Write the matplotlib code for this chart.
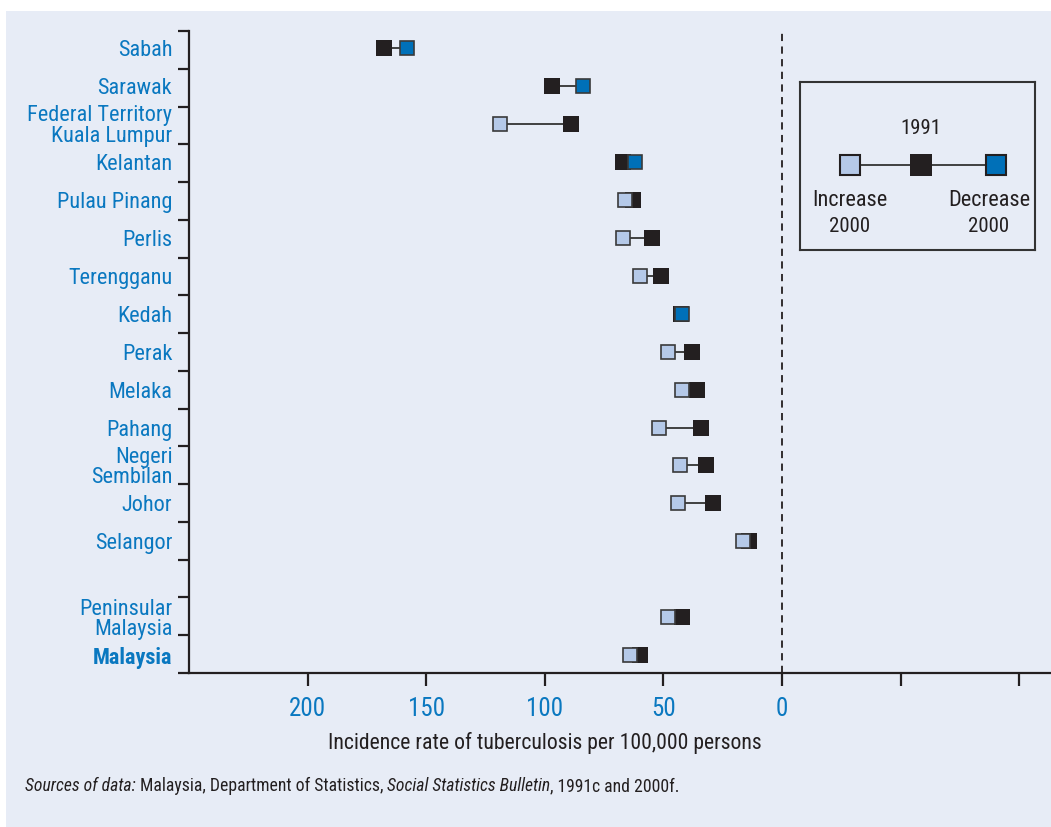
import matplotlib
matplotlib.use("Agg")
import matplotlib.pyplot as plt
from matplotlib import font_manager
from matplotlib.patches import Rectangle
from matplotlib.transforms import blended_transform_factory
import numpy as np

installed = {f.name for f in font_manager.fontManager.ttflist}
preferred = ["Roboto Condensed", "Archivo Narrow", "PT Sans Narrow", "Liberation Sans"]
main_font = next((f for f in preferred if f in installed), "DejaVu Sans")
plt.rcParams['font.family'] = [main_font, 'DejaVu Sans']

# Tuberculosis incidence per 100,000 persons
states = ["Sabah", "Sarawak", "Federal Territory\nKuala Lumpur", "Kelantan",
          "Pulau Pinang", "Perlis", "Terengganu", "Kedah", "Perak", "Melaka",
          "Pahang", "Negeri\nSembilan", "Johor", "Selangor",
          "Peninsular\nMalaysia", "Malaysia"]
rate_1991 = [168, 97, 89, 67, 63, 55, 51, 42.5, 38, 36, 34, 32, 29, 14, 42, 60]
rate_2000 = [158, 84, 119, 62, 66, 67, 60, 42, 48, 42, 52, 43, 44, 16.5, 48, 64]
row_pos = [0, 1, 2, 3, 4, 5, 6, 7, 8, 9, 10, 11, 12, 13, 15, 16]
x_ticks = [200, 150, 100, 50, 0, -50, -100]
x_tick_labels = ["200", "150", "100", "50", "0", "", ""]

BG = "#e7ecf6"
INK = "#231f20"
BLUE_TXT = "#0a78c0"
LIGHT = "#b5c9e8"
DARK_BLUE = "#0070b8"
EDGE = "#3a3a3a"

W, H = 1051, 827
fig = plt.figure(figsize=(W / 100, H / 100), dpi=100)
fig.patch.set_facecolor("white")
fig.add_artist(Rectangle((6 / W, 0), 1 - 6 / W, (H - 11) / H,
                         transform=fig.transFigure, facecolor=BG,
                         edgecolor="none", zorder=-10))

ax = fig.add_axes([189 / W, (H - 673) / H, (W - 189) / W, 642 / H])
ax.set_facecolor("none")
ax.set_xlim(250, -113.4)
y_top, y_bot = -0.45, 16.47
ax.set_ylim(y_bot, y_top)

for s in ("top", "right"):
    ax.spines[s].set_visible(False)
for s in ("left", "bottom"):
    ax.spines[s].set_color(INK)
    ax.spines[s].set_linewidth(1.6)

# zero reference line
ax.axvline(0, color=INK, lw=1.3, ls=(0, (4, 3)), zorder=1)

# dumbbells
for y, a, b in zip(row_pos, rate_1991, rate_2000):
    ax.plot([a, b], [y, y], color="#333333", lw=1.3, zorder=2, solid_capstyle="butt")
    ax.plot(a, y, marker="s", ms=12.2, mfc=INK, mec=INK, mew=0, zorder=3)
    col = LIGHT if b > a else DARK_BLUE
    ax.plot(b, y, marker="s", ms=9.6, mfc=col, mec=EDGE, mew=1.2, zorder=4)

# y axis: labels at rows, tick marks at row boundaries
ax.set_yticks(row_pos)
ax.set_yticklabels(states, color=BLUE_TXT, fontsize=16, linespacing=0.95)
ax.tick_params(axis="y", which="major", length=0, pad=12)
ax.set_yticks(np.linspace(y_top, y_bot, 18), minor=True)
ax.tick_params(axis="y", which="minor", length=8, width=1.6, color=INK, direction="out")
ax.get_yticklabels()[-1].set_fontweight("bold")

ax.set_xticks(x_ticks)
ax.set_xticklabels(x_tick_labels, color=BLUE_TXT, fontsize=18)
ax.tick_params(axis="x", length=9, width=1.6, color=INK, direction="out", pad=8)

trans = blended_transform_factory(ax.transData, fig.transFigure)
ax.text(100, 1 - 743 / H, "Incidence rate of tuberculosis per 100,000 persons",
        transform=trans, ha="center", va="center", fontsize=15.7, color=INK)

# legend box
lg = fig.add_axes([800 / W, (H - 250) / H, 235 / W, 168 / H])
lg.set_xlim(0, 235)
lg.set_ylim(168, 0)
lg.set_facecolor("none")
lg.set_xticks([])
lg.set_yticks([])
for s in lg.spines.values():
    s.set_color("#333333")
    s.set_linewidth(1.5)
lg.plot([50, 196], [83, 83], color="#333333", lw=1.3, zorder=1)
lg.plot(50, 83, marker="s", ms=14, mfc=LIGHT, mec=INK, mew=1.5, zorder=2)
lg.plot(121, 83, marker="s", ms=15.5, mfc=INK, mec=INK, mew=0, zorder=2)
lg.plot(196, 83, marker="s", ms=14, mfc=DARK_BLUE, mec=INK, mew=1.5, zorder=2)
lg.text(121, 47, "1991", ha="center", va="center", fontsize=15, color=INK)
lg.text(50, 118, "Increase", ha="center", va="center", fontsize=16, color=INK)
lg.text(50, 144, "2000", ha="center", va="center", fontsize=15, color=INK)
lg.text(189, 118, "Decrease", ha="center", va="center", fontsize=16, color=INK)
lg.text(189, 144, "2000", ha="center", va="center", fontsize=15, color=INK)

# source note, mixing italic and upright runs
pieces = [("Sources of data:", "italic"),
          (" Malaysia, Department of Statistics, ", "normal"),
          ("Social Statistics Bulletin", "italic"),
          (", 1991c and 2000f.", "normal")]
renderer = fig.canvas.get_renderer()
x_px = 25
for txt, style in pieces:
    t = fig.text(x_px / W, 1 - 786 / H, txt, ha="left", va="center",
                 fontsize=12.7, style=style, color=INK)
    bb = t.get_window_extent(renderer=renderer)
    x_px += bb.width

fig.savefig("out.png", dpi=100, facecolor=fig.get_facecolor())
